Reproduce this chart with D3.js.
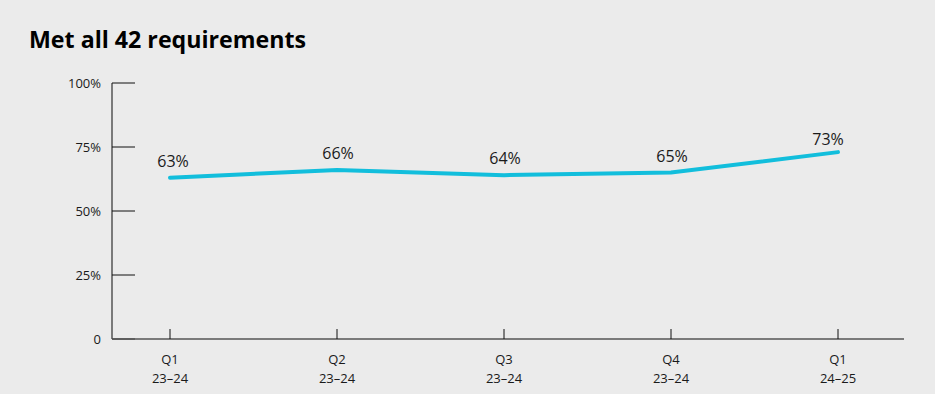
<!DOCTYPE html>
<html>
<head>
<meta charset="utf-8">
<script src="https://cdn.jsdelivr.net/npm/d3@7"></script>
<style>
  body { margin: 0; background: #ebebeb; }
  svg { display: block; font-family: 'Open Sans', sans-serif; }
</style>
</head>
<body>
<svg id="chart" width="935" height="394"></svg>
<script>
const quarters = ['Q1', 'Q2', 'Q3', 'Q4', 'Q1'];
const years = ['23–24', '23–24', '23–24', '23–24', '24–25'];
const metAll = [63, 66, 64, 65, 73];
const yTicks = [0, 25, 50, 75, 100];

const svg = d3.select('#chart');

svg.append('text')
  .attr('x', 29)
  .attr('y', 48)
  .attr('font-size', 23.2)
  .attr('font-weight', 700)
  .attr('fill', '#000')
  .text('Met all 42 requirements');

const x = d3.scalePoint()
  .domain(d3.range(quarters.length))
  .range([170, 838]);

const y = d3.scaleLinear()
  .domain([0, 100])
  .range([339, 83]);

// y axis
const yAxis = svg.append('g');
yAxis.append('line')
  .attr('x1', 112).attr('x2', 112)
  .attr('y1', y(100)).attr('y2', y(0))
  .attr('stroke', '#555').attr('stroke-width', 1.5);
yAxis.selectAll('.ytick')
  .data(yTicks)
  .join('line')
    .attr('class', 'ytick')
    .attr('x1', 112).attr('x2', 135)
    .attr('y1', d => y(d)).attr('y2', d => y(d))
    .attr('stroke', '#111').attr('stroke-width', 1);
yAxis.selectAll('.ylabel')
  .data(yTicks)
  .join('text')
    .attr('class', 'ylabel')
    .attr('x', 101)
    .attr('y', d => y(d) + 5)
    .attr('text-anchor', 'end')
    .attr('font-size', 13)
    .attr('fill', '#1a1a1a')
    .text(d => d === 0 ? '0' : d + '%');

// x axis
const xAxis = svg.append('g');
xAxis.append('line')
  .attr('x1', 112).attr('x2', 904)
  .attr('y1', y(0)).attr('y2', y(0))
  .attr('stroke', '#555').attr('stroke-width', 1.5);
xAxis.selectAll('.xtick')
  .data(quarters)
  .join('line')
    .attr('class', 'xtick')
    .attr('x1', (d, i) => x(i)).attr('x2', (d, i) => x(i))
    .attr('y1', y(0) - 10).attr('y2', y(0))
    .attr('stroke', '#111').attr('stroke-width', 1);
xAxis.selectAll('.xq')
  .data(quarters)
  .join('text')
    .attr('class', 'xq')
    .attr('x', (d, i) => x(i))
    .attr('y', 364)
    .attr('text-anchor', 'middle')
    .attr('font-size', 13)
    .attr('fill', '#1a1a1a')
    .text(d => d);
xAxis.selectAll('.xy')
  .data(years)
  .join('text')
    .attr('class', 'xy')
    .attr('x', (d, i) => x(i))
    .attr('y', 382.5)
    .attr('text-anchor', 'middle')
    .attr('font-size', 13)
    .attr('fill', '#1a1a1a')
    .text(d => d);

// line
const line = d3.line()
  .x((d, i) => x(i))
  .y(d => y(d));

svg.append('path')
  .datum(metAll)
  .attr('d', line)
  .attr('fill', 'none')
  .attr('stroke', '#12bedc')
  .attr('stroke-width', 4)
  .attr('stroke-linecap', 'round')
  .attr('stroke-linejoin', 'round');

const last = metAll.length - 1;
svg.selectAll('.vlabel')
  .data(metAll)
  .join('text')
    .attr('class', 'vlabel')
    .attr('x', (d, i) => x(i) + (i === last ? -10 : (i === 0 ? 3 : 1)))
    .attr('y', (d, i) => y(d) - (i === last ? 7 : 11))
    .attr('text-anchor', 'middle')
    .attr('font-size', 16)
    .attr('fill', '#1a1a1a')
    .text(d => d + '%');
</script>
</body>
</html>
